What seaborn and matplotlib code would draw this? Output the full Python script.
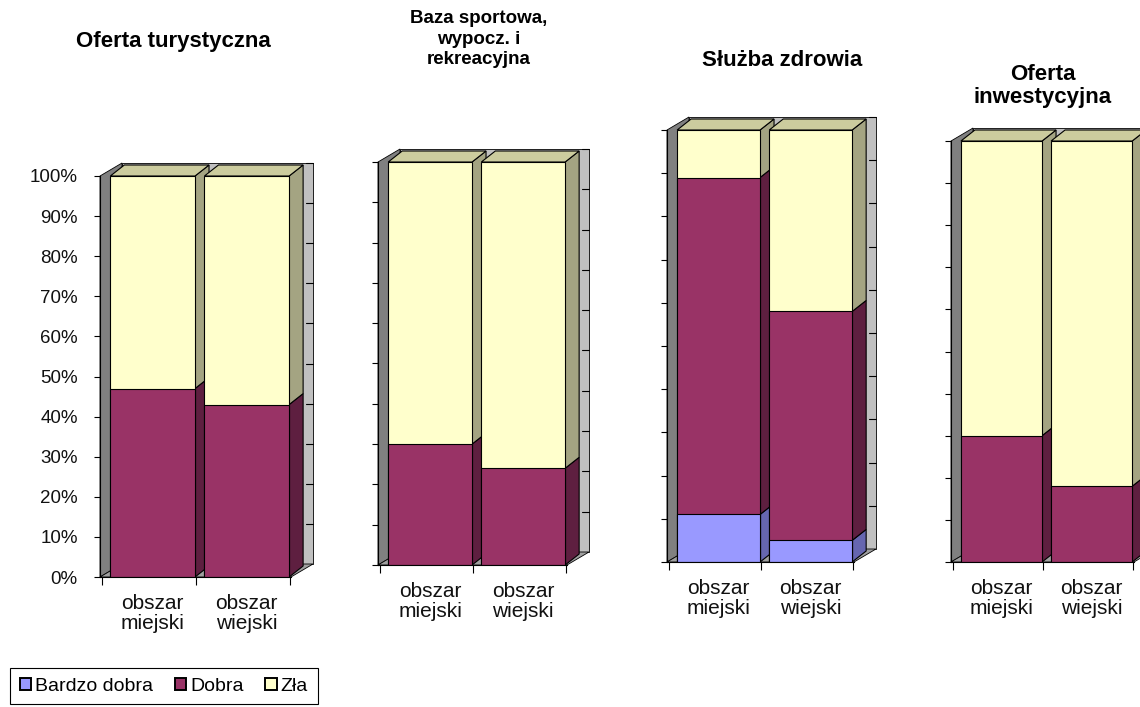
import pandas as pd
import matplotlib.pyplot as plt
import seaborn as sns
from matplotlib.patches import Polygon, Patch

sns.set_style("white")
plt.rcParams['font.family'] = ['Liberation Sans', 'DejaVu Sans']
plt.rcParams['text.color'] = 'black'
plt.rcParams['xtick.color'] = 'black'
plt.rcParams['ytick.color'] = 'black'

# dane
categories = ["obszar\nmiejski", "obszar\nwiejski"]
titles = ["Oferta turystyczna", "Baza sportowa,\nwypocz. i\nrekreacyjna",
          "Służba zdrowia", "Oferta\ninwestycyjna"]
series = ["Bardzo dobra", "Dobra", "Zła"]
bardzo_dobra = [[0, 0], [0, 0], [11, 5], [0, 0]]
dobra = [[47, 43], [30, 24], [78, 53], [30, 18]]
zla = [[53, 57], [70, 76], [11, 42], [70, 82]]

front = {"Bardzo dobra": "#9999FF", "Dobra": "#993366", "Zła": "#FFFFCC"}
side = {"Bardzo dobra": "#6666B0", "Dobra": "#5E1F40", "Zła": "#A4A482"}
top_col = "#CCCC9E"

W, H = 1140, 707
fig = plt.figure(figsize=(W / 100, H / 100), dpi=100)

# pozycje paneli w pikselach: lewy, szerokosc, dol, gora
panels = [(100, 191, 577, 176), (378, 189, 565, 162),
          (667, 187, 562, 130), (951, 183, 562, 141)]
title_pos = [(173, 42, 16, 1.15), (479, 39, 13.5, 1.3),
             (782, 60, 16, 1.15), (1043, 86, 16, 1.15)]
XL, XR = -0.56, 1.47

for i, (lp, wp, bp, tp) in enumerate(panels):
    ax = fig.add_axes([lp / W, 1 - bp / H, wp / W, (bp - tp) / H])
    px_x = wp / (XR - XL)
    px_y = (bp - tp) / 100
    dx, dy = 14 / px_x, 11 / px_y      # glebokosc slupka
    wx, wy = 22 / px_x, 13 / px_y      # glebokosc sciany

    df = pd.DataFrame({"kat": categories, "bd": bardzo_dobra[i],
                       "d": dobra[i], "z": zla[i]})
    df["c1"] = df["bd"]
    df["c2"] = df["bd"] + df["d"]
    df["c3"] = df["c2"] + df["z"]

    sns.barplot(data=df, x="kat", y="c3", color=front["Zła"], saturation=1,
                width=0.9, edgecolor="black", linewidth=0.8, ax=ax, zorder=2)
    xs = [(p.get_x(), p.get_x() + p.get_width()) for p in ax.patches[:2]]
    sns.barplot(data=df, x="kat", y="c2", color=front["Dobra"], saturation=1,
                width=0.9, edgecolor="black", linewidth=0.8, ax=ax, zorder=2)
    if df["c1"].sum() > 0:
        sns.barplot(data=df, x="kat", y="c1", color=front["Bardzo dobra"],
                    saturation=1, width=0.9, edgecolor="black", linewidth=0.8,
                    ax=ax, zorder=2)

    # sciany 3D
    ax.add_patch(Polygon([(XL + wx, wy), (XR + wx, wy), (XR + wx, 100 + wy),
                          (XL + wx, 100 + wy)], closed=True, fc="#C0C0C0",
                         ec="black", lw=0.6, zorder=0.3, clip_on=False))
    ax.add_patch(Polygon([(XL, 0), (XL + wx, wy), (XL + wx, 100 + wy), (XL, 100)],
                         closed=True, fc="#808080", ec="black", lw=0.6,
                         zorder=0.4, clip_on=False))
    ax.add_patch(Polygon([(XL, 0), (XR, 0), (XR + wx, wy), (XL + wx, wy)],
                         closed=True, fc="#A0A0A0", ec="black", lw=0.6,
                         zorder=0.4, clip_on=False))
    for v in range(10, 101, 10):
        ax.plot([XR + wx - 7 / px_x, XR + wx], [v + wy, v + wy], color="black",
                lw=0.8, zorder=0.35, clip_on=False)

    # boki i gorna sciana slupkow
    for j, (x0, x1) in enumerate(xs):
        segs = [(0, df["c1"][j], "Bardzo dobra"), (df["c1"][j], df["c2"][j], "Dobra"),
                (df["c2"][j], df["c3"][j], "Zła")]
        for y0, y1, name in segs:
            if y1 - y0 <= 0:
                continue
            ax.add_patch(Polygon([(x1, y0), (x1 + dx, y0 + dy), (x1 + dx, y1 + dy),
                                  (x1, y1)], closed=True, fc=side[name], ec="black",
                                 lw=0.8, zorder=1.5, clip_on=False))
        yt = df["c3"][j]
        ax.add_patch(Polygon([(x0, yt), (x0 + dx, yt + dy), (x1 + dx, yt + dy),
                              (x1, yt)], closed=True, fc=top_col, ec="black",
                             lw=0.8, zorder=1.5, clip_on=False))

    ax.set_xlim(XL, XR)
    ax.set_ylim(0, 100)
    ax.set_xlabel("")
    ax.set_ylabel("")
    sns.despine(ax=ax, top=True, right=True)
    for s in ["left", "bottom"]:
        ax.spines[s].set_color("black")
        ax.spines[s].set_linewidth(0.8)
        ax.spines[s].set_zorder(3)

    ax.set_xticks([0, 1])
    ax.set_xticklabels(categories, fontsize=15, color="#111111", linespacing=1.1)
    ax.set_xticks([-0.54, 0.46, 1.46], minor=True)
    ax.tick_params(axis="x", which="major", length=0, pad=12)
    ax.tick_params(axis="x", which="minor", length=6, width=0.8, color="black",
                   direction="out", bottom=True)
    ax.set_yticks(range(0, 101, 10))
    if i == 0:
        ax.set_yticklabels([f"{v}%" for v in range(0, 101, 10)], fontsize=13.5,
                           color="#111111")
    else:
        ax.set_yticklabels([])
    ax.tick_params(axis="y", length=4, width=0.8, color="black", pad=12,
                   left=True, direction="out")

    tx, ty, fs, ls = title_pos[i]
    fig.text(tx / W, 1 - ty / H, titles[i], ha="center", va="center",
             fontsize=fs, fontweight="bold", linespacing=ls)

handles = [Patch(facecolor=front[s], edgecolor="black", linewidth=1.4) for s in series]
leg = fig.legend(handles, series, loc="upper left",
                 bbox_to_anchor=(10 / W, 1 - 668 / H), ncol=3, frameon=True,
                 fancybox=False, edgecolor="black", framealpha=1, fontsize=14,
                 handlelength=0.6, handleheight=0.6, handletextpad=0.2,
                 columnspacing=1.1, borderpad=0.5, borderaxespad=0)
leg.get_frame().set_linewidth(0.8)

fig.savefig("out.png", dpi=100, facecolor="white")
